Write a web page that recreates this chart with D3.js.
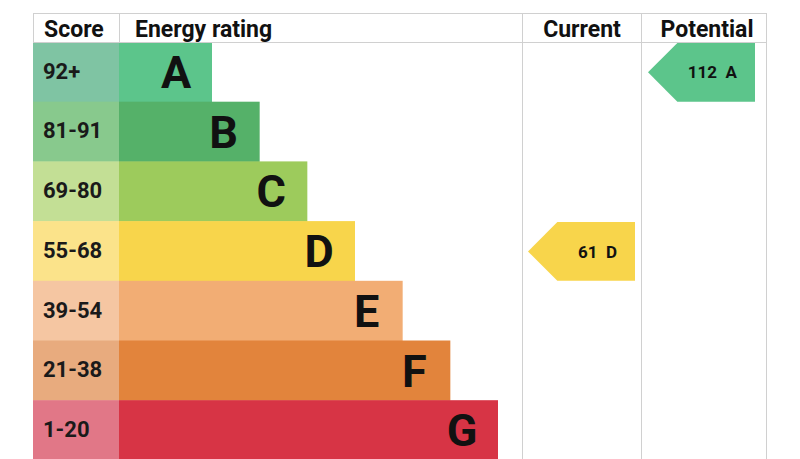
<!DOCTYPE html>
<html>
<head>
<meta charset="utf-8">
<script src="https://cdn.jsdelivr.net/npm/d3@7"></script>
<style>
  html, body { margin: 0; padding: 0; background: #fff; }
  svg { display: block; font-family: Roboto, "Noto Sans", sans-serif; }
</style>
</head>
<body>
<svg id="chart" width="800" height="459"></svg>
<script>
// ---- data ----
const bands = ["A", "B", "C", "D", "E", "F", "G"];
const scoreRanges = ["92+", "81-91", "69-80", "55-68", "39-54", "21-38", "1-20"];
const barColors = ["#5cc58b", "#55b169", "#9dcb5c", "#f8d54b", "#f2ad74", "#e2843c", "#d73445"];
const scoreColors = ["#7fc4a3", "#88c98d", "#c3df95", "#fbe38a", "#f5c6a2", "#e8ab7e", "#e17787"];
const headers = ["Score", "Energy rating", "Current", "Potential"];
const current = { value: 61, band: "D" };
const potential = { value: 112, band: "A" };

// ---- layout ----
const svg = d3.select("#chart");
const leftX = 33, scoreRight = 119, curLeft = 522, potLeft = 641, rightX = 766;
const topY = 13, headerBottom = 42, rowH = 59.7;

const y = d3.scaleBand().domain(bands).range([headerBottom, headerBottom + rowH * bands.length]).padding(0);
const xBar = d3.scaleLinear().domain([0, bands.length - 1]).range([212, 498]);

// score cells
svg.selectAll("rect.score").data(bands).join("rect")
  .attr("class", "score")
  .attr("x", leftX).attr("y", d => y(d))
  .attr("width", scoreRight - leftX).attr("height", y.bandwidth() + 0.5)
  .attr("fill", (d, i) => scoreColors[i]);

// bars
svg.selectAll("rect.bar").data(bands).join("rect")
  .attr("class", "bar")
  .attr("x", scoreRight).attr("y", d => y(d))
  .attr("width", (d, i) => xBar(i) - scoreRight).attr("height", y.bandwidth() + 0.5)
  .attr("fill", (d, i) => barColors[i]);

// grid lines
const gridColor = "#d0d0d0";
const bottomY = 459;
svg.append("line").attr("x1", leftX).attr("x2", rightX).attr("y1", topY + 0.5).attr("y2", topY + 0.5)
  .attr("stroke", gridColor).attr("stroke-width", 1);
svg.append("line").attr("x1", leftX).attr("x2", rightX).attr("y1", headerBottom + 0.5).attr("y2", headerBottom + 0.5)
  .attr("stroke", gridColor).attr("stroke-width", 1);
[leftX, scoreRight].forEach(x => {
  svg.append("line").attr("x1", x + 0.5).attr("x2", x + 0.5).attr("y1", topY).attr("y2", headerBottom)
    .attr("stroke", gridColor);
});
[curLeft, potLeft, rightX].forEach(x => {
  svg.append("line").attr("x1", x + 0.5).attr("x2", x + 0.5).attr("y1", topY).attr("y2", bottomY)
    .attr("stroke", gridColor);
});

// header text
const headerX = [44, 135, 582, 707];
const headerAnchor = ["start", "start", "middle", "middle"];
svg.selectAll("text.header").data(headers).join("text")
  .attr("class", "header")
  .attr("x", (d, i) => headerX[i]).attr("y", 36.5)
  .attr("text-anchor", (d, i) => headerAnchor[i])
  .attr("font-size", 23).attr("font-weight", 700).attr("fill", "#111")
  .text(d => d);

// score labels
svg.selectAll("text.range").data(bands).join("text")
  .attr("class", "range")
  .attr("x", 43).attr("y", d => y(d) + y.bandwidth() / 2 - 1)
  .attr("dy", "0.36em")
  .attr("font-size", 22).attr("font-weight", 700).attr("fill", "#1a1a1a")
  .text((d, i) => scoreRanges[i]);

// band letters
svg.selectAll("text.letter").data(bands).join("text")
  .attr("class", "letter")
  .attr("x", (d, i) => xBar(i) - 36).attr("y", d => y(d) + y.bandwidth() / 2)
  .attr("dy", "0.36em")
  .attr("text-anchor", "middle")
  .attr("font-size", 45).attr("font-weight", 700).attr("fill", "#111")
  .text(d => d);

// arrows
function arrow(colLeft, colRight, rec, leftPad, rightPad) {
  const i = bands.indexOf(rec.band);
  const y0 = y(rec.band) + 1, y1 = y(rec.band) + y.bandwidth();
  const xt = colLeft + leftPad, xr = colRight - rightPad;
  const ym = (y0 + y1) / 2;
  const xn = xt + (y1 - y0) / 2;
  svg.append("path")
    .attr("d", `M${xt},${ym}L${xn},${y0}L${xr},${y0}L${xr},${y1}L${xn},${y1}Z`)
    .attr("fill", barColors[i]);
  svg.append("text")
    .attr("x", xr - 18).attr("y", ym).attr("dy", "0.36em")
    .attr("text-anchor", "end")
    .attr("font-size", 17).attr("font-weight", 700).attr("fill", "#111")
    .attr("xml:space", "preserve")
    .style("white-space", "pre")
    .text(rec.value + "  " + rec.band);
}
arrow(curLeft, potLeft, current, 6, 6);
arrow(potLeft, rightX, potential, 7, 11);
</script>
</body>
</html>
